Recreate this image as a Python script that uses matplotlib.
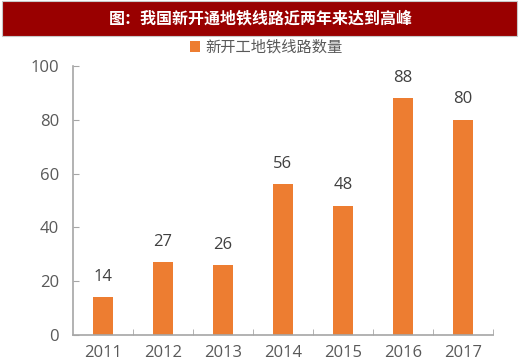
import matplotlib
matplotlib.use("Agg")
import matplotlib.pyplot as plt
from matplotlib.patches import Rectangle

years = ["2011", "2012", "2013", "2014", "2015", "2016", "2017"]
values = [14, 27, 26, 56, 48, 88, 80]
yticks = [0, 20, 40, 60, 80, 100]
title = "图：我国新开通地铁线路近两年来达到高峰"
series_name = "新开工地铁线路数量"

plt.rcParams['font.family'] = ['Noto Sans CJK SC', 'DejaVu Sans']
num_font = ['Open Sans', 'DejaVu Sans']

W, H = 520, 364
fig = plt.figure(figsize=(W/100, H/100), dpi=100)

# title banner
fig.patches.append(Rectangle((2/W, 1 - 36/H), 515/W, 35/H, transform=fig.transFigure,
                             facecolor="#990000", edgecolor="#c8c8c8", linewidth=0.8, zorder=0))
fig.text(0.5 + 1/W, 1 - 18.5/H, title, color="white", fontsize=11.5, fontweight="bold",
         ha="center", va="center")

ax = fig.add_axes([73/W, 1 - 335/H, 420/W, 269/H])
x = list(range(len(years)))
bars = ax.bar(x, values, width=0.32, color="#ED7D31", label=series_name, zorder=2)
ax.set_xlim(-0.5, len(years) - 0.5)
ax.set_ylim(0, 100)
ax.set_yticks(yticks)
ax.set_yticklabels([str(v) for v in yticks], fontsize=12, color="#595959", family=num_font)
ax.set_xticks(x)
ax.set_xticklabels(years, fontsize=12, color="#595959", family=num_font)
ax.tick_params(axis='x', length=0, pad=7)
ax.tick_params(axis='y', direction='in', length=4, color="#a6a6a6", pad=10)
ax.set_xticks([i + 0.5 for i in range(len(years))], minor=True)
ax.tick_params(axis='x', which='minor', direction='in', length=4, color="#a6a6a6")
for s in ["top", "right"]:
    ax.spines[s].set_visible(False)
for s in ["left", "bottom"]:
    ax.spines[s].set_color("#a6a6a6")
    ax.spines[s].set_linewidth(1.2)

for xi, v in zip(x, values):
    ax.annotate(str(v), (xi, v), xytext=(0, 9), textcoords="offset points",
                ha="center", va="bottom", fontsize=12, color="#404040", family=num_font)

fig.legend(handles=[bars], labels=[series_name], loc="center", bbox_to_anchor=(266/W, 1 - 47/H),
           frameon=False, fontsize=11, handlelength=0.7, handleheight=0.7, handletextpad=0.3,
           labelcolor="#595959")

fig.savefig("out.png", dpi=100, facecolor="white")
